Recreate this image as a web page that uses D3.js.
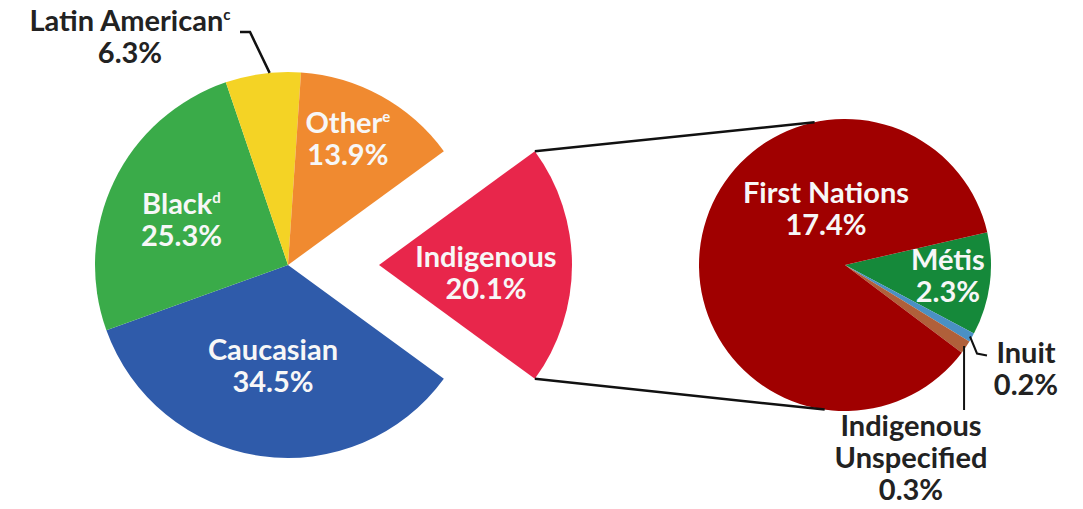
<!DOCTYPE html>
<html>
<head>
<meta charset="utf-8">
<script src="https://cdn.jsdelivr.net/npm/d3@7"></script>
<style>
  body { margin: 0; background: #fff; }
  text { font-family: Lato, sans-serif; font-weight: 700; }
</style>
</head>
<body>
<div id="chart"></div>
<script>
// Data ------------------------------------------------------
const groupNames = ["Indigenous", "Caucasian", "Black", "Latin American", "Other"];
const groupSup = ["", "", "d", "c", "e"];
const groupValues = [20.1, 34.5, 25.3, 6.3, 13.9];
const groupColors = ["#e8264b", "#2f5baa", "#3aab49", "#f4d325", "#f08a30"];

const subNames = ["Métis", "Inuit", "Indigenous Unspecified", "First Nations"];
const subValues = [2.3, 0.2, 0.3, 17.4];
const subColors = ["#15893a", "#4a90c4", "#b0603a", "#a00000"];

// Sizes ------------------------------------------------------
var width = 1083, height = 509;
var mainC = { x: 288, y: 265 }, mainR = 193, explode = 91;
var subC = { x: 845, y: 265 }, subR = 146;
var fontSize = 29, lineH = 32;

var svg = d3.select("#chart").append("svg")
    .attr("width", width)
    .attr("height", height);

const deg = Math.PI / 180;

// Main pie: exploded slice centred at 3 o'clock
var total = d3.sum(groupValues);
var a0 = Math.PI / 2 - Math.PI * groupValues[0] / total;
var mainPie = d3.pie().sort(null).startAngle(a0).endAngle(a0 + 2 * Math.PI);
var mainArcs = mainPie(groupValues).map((d, i) => Object.assign(d, { i: i }));
var mainArc = d3.arc().innerRadius(0).outerRadius(mainR);

var gMain = svg.append("g").attr("transform", `translate(${mainC.x},${mainC.y})`);
gMain.selectAll("path")
    .data(mainArcs)
    .enter().append("path")
    .attr("transform", d => d.i === 0 ? `translate(${explode},0)` : null)
    .attr("d", mainArc)
    .attr("fill", d => groupColors[d.i]);

// Sub pie (Métis first, starting a little above 3 o'clock)
var subPie = d3.pie().sort(null).startAngle(77 * deg).endAngle(77 * deg + 2 * Math.PI);
var subArcs = subPie(subValues).map((d, i) => Object.assign(d, { i: i }));
var subArc = d3.arc().innerRadius(0).outerRadius(subR);

var gSub = svg.append("g").attr("transform", `translate(${subC.x},${subC.y})`);
gSub.selectAll("path")
    .data(subArcs)
    .enter().append("path")
    .attr("d", subArc)
    .attr("fill", d => subColors[d.i]);

// helper: point on circle (angle clockwise from 12 o'clock)
function polar(c, r, a) {
    return [c.x + r * Math.sin(a), c.y - r * Math.cos(a)];
}

// Connector lines from exploded slice to the sub pie
var ind = mainArcs[0];
var expC = { x: mainC.x + explode, y: mainC.y };
var conn = [
    [polar(expC, mainR, ind.startAngle), polar(subC, subR, -12 * deg)],
    [polar(expC, mainR, ind.endAngle), polar(subC, subR, 188 * deg)]
];
svg.selectAll("line.conn")
    .data(conn)
    .enter().append("line")
    .attr("class", "conn")
    .attr("x1", d => d[0][0]).attr("y1", d => d[0][1])
    .attr("x2", d => d[1][0]).attr("y2", d => d[1][1])
    .attr("stroke", "#111")
    .attr("stroke-width", 2.5);

// Labels -----------------------------------------------------
function label(x, y, lines, sup, fill) {
    var t = svg.append("text")
        .attr("text-anchor", "middle")
        .attr("fill", fill)
        .style("font-size", fontSize + "px");
    lines.forEach((s, k) => {
        t.append("tspan").attr("x", x).attr("y", y + k * lineH).text(s);
        if (k === 0 && sup) {
            t.append("tspan").attr("dy", -11).style("font-size", "15px").text(sup);
        }
    });
    return t;
}

function pct(v) { return v.toFixed(1) + "%"; }

// first-line baseline of inner labels: [angle, radius] from the slice's centre
var innerLab = { 0: [91, 107], 1: [189, 96], 2: [295.5, 118], 4: [24.4, 145] };
mainArcs.forEach(d => {
    if (!(d.i in innerLab)) return;
    var c = d.i === 0 ? expC : mainC;
    var p = polar(c, innerLab[d.i][1], innerLab[d.i][0] * deg);
    label(p[0], p[1], [groupNames[d.i], pct(groupValues[d.i])], groupSup[d.i], "#f7f7f7");
});

// Latin American: outside label with leader
var lat = mainArcs[3];
var latP = polar(mainC, mainR, (lat.startAngle + lat.endAngle) / 2 + 2 * deg);
label(130, 31, [groupNames[3], pct(groupValues[3])], groupSup[3], "#222");
svg.append("polyline")
    .attr("points", [[240, 32], [250, 32], latP].map(p => p.join(",")).join(" "))
    .attr("fill", "none").attr("stroke", "#111").attr("stroke-width", 2.5);

// First Nations and Métis inside
var fnP = polar(subC, 65, 343 * deg);
label(fnP[0], fnP[1], [subNames[3], pct(subValues[3])], "", "#f7f7f7");
var meP = polar(subC, 103, 92.8 * deg);
label(meP[0], meP[1], [subNames[0], pct(subValues[0])], "", "#f7f7f7");

// Inuit: leader
var inu = subArcs[1];
var inuP = polar(subC, subR - 2, (inu.startAngle + inu.endAngle) / 2);
svg.append("polyline")
    .attr("points", [inuP, [inuP[0] + 7, inuP[1] + 17], [inuP[0] + 17, inuP[1] + 19]].map(p => p.join(",")).join(" "))
    .attr("fill", "none").attr("stroke", "#111").attr("stroke-width", 2);
label(1026, 363, [subNames[1], pct(subValues[1])], "", "#222");

// Indigenous Unspecified: vertical leader
var uns = subArcs[2];
var unsP = polar(subC, subR - 2, (uns.startAngle + uns.endAngle) / 2);
svg.append("line")
    .attr("x1", unsP[0]).attr("y1", unsP[1])
    .attr("x2", unsP[0]).attr("y2", 410)
    .attr("stroke", "#111").attr("stroke-width", 2);
label(911, 436, ["Indigenous", "Unspecified", pct(subValues[2])], "", "#222");
</script>
</body>
</html>
